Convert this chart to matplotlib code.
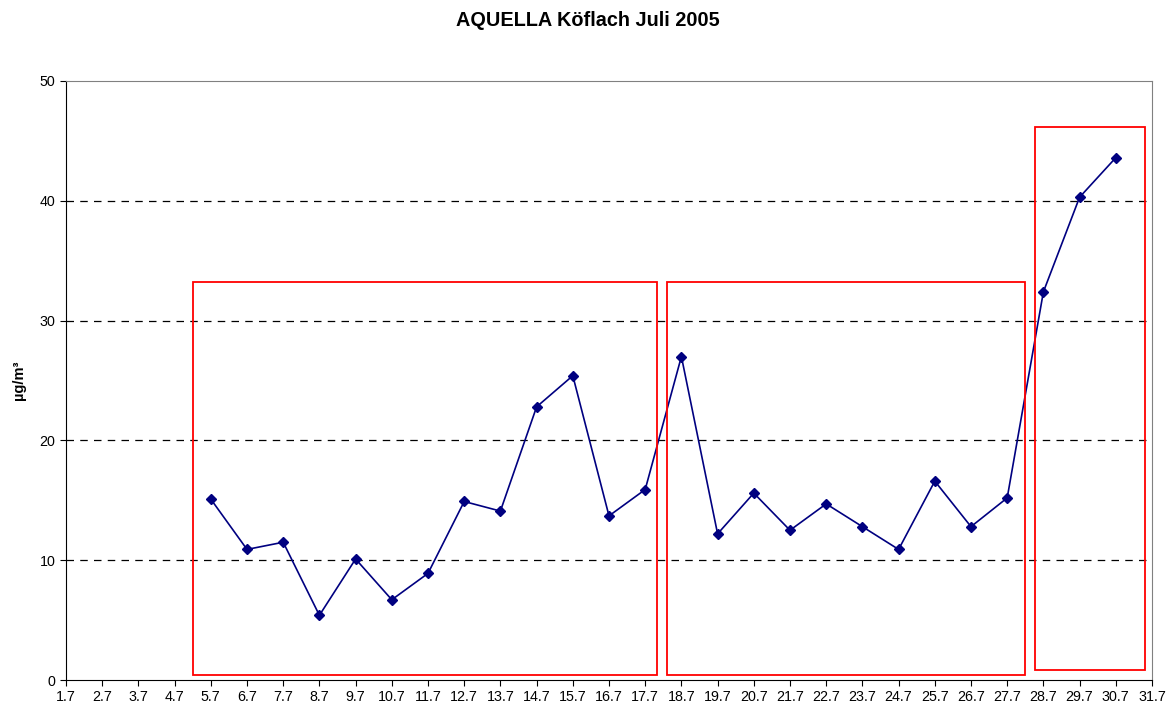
import matplotlib
matplotlib.use("Agg")
import matplotlib.pyplot as plt
from matplotlib.patches import Rectangle

plt.rcParams['font.family'] = ['Liberation Sans', 'DejaVu Sans']

days = [f"{d}.7" for d in range(1, 32)]
measured_days = [f"{d}.7" for d in range(5, 31)]
values = [15.1, 10.9, 11.5, 5.4, 10.1, 6.7, 8.9, 14.9, 14.1, 22.8, 25.4,
          13.7, 15.9, 27.0, 12.2, 15.6, 12.5, 14.7, 12.8, 10.9, 16.6, 12.8,
          15.2, 32.4, 40.3, 43.6]
# highlight boxes: (x_start, x_end, y_bottom, y_top) in category index units
boxes = [(3.52, 16.33, 0.4, 33.2), (16.6, 26.49, 0.4, 33.2), (26.76, 29.81, 0.83, 46.2)]

fig = plt.figure(figsize=(11.76, 7.11), dpi=100)
ax = fig.add_axes([66/1176, 1-680/711, (1152-66)/1176, (680-81)/711])

xs = [days.index(d) for d in measured_days]
ax.plot(xs, values, color='#000080', lw=1.2, marker='D', markersize=5, zorder=3)

for x0, x1, y0, y1 in boxes:
    ax.add_patch(Rectangle((x0, y0), x1 - x0, y1 - y0, fill=False,
                           edgecolor='#ff0000', lw=1.3, zorder=4))

ax.set_xlim(0, len(days) - 1)
ax.set_ylim(0, 50)
ax.set_xticks(range(len(days)))
ax.set_xticklabels(days)
ax.set_yticks(range(0, 51, 10))
for y in (10, 20, 30, 40):
    ax.axhline(y, color='#000000', lw=0.9, ls=(0, (6, 5)), zorder=1)

ax.spines['left'].set_color('black')
ax.spines['bottom'].set_color('black')
ax.spines['top'].set_color('#808080')
ax.spines['right'].set_color('#808080')
ax.tick_params(axis='both', labelsize=10.3, length=4, color='black', direction='out')
ax.set_ylabel('µg/m³', fontsize=10.5, fontweight='bold', labelpad=10)

fig.suptitle('AQUELLA Köflach Juli 2005', y=1-20/711, va='center',
             fontsize=14.3, fontweight='bold')

fig.savefig('out.png', dpi=100)
